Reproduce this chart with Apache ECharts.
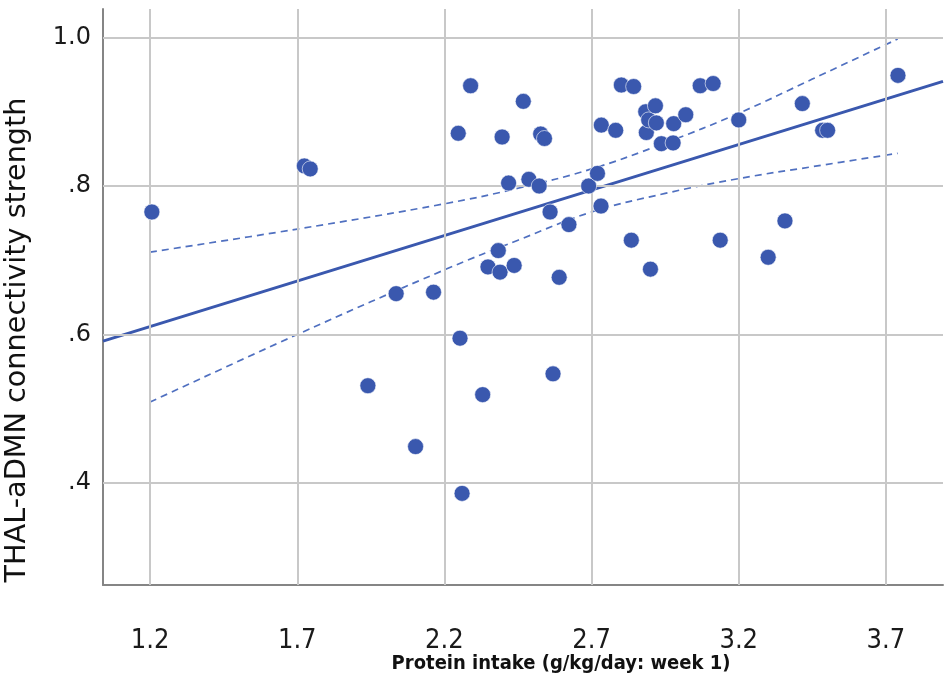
<!DOCTYPE html>
<html>
<head>
<meta charset="utf-8">
<script src="https://cdn.jsdelivr.net/npm/echarts@6/dist/echarts.min.js"></script>
<style>
html,body{margin:0;padding:0;background:#fff;}
#chart{width:945px;height:680px;}
</style>
</head>
<body>
<div id="chart"></div>
<script>
// ---- data ----
const proteinX = [1.206,1.724,1.744,1.940,2.036,2.102,2.163,2.247,2.253,2.260,2.289,2.330,2.348,2.383,2.389,2.396,2.418,2.437,2.468,2.487,2.522,2.527,2.540,2.559,2.569,2.590,2.623,2.690,2.720,2.732,2.733,2.782,2.801,2.835,2.843,2.884,2.886,2.894,2.900,2.917,2.920,2.937,2.977,2.979,3.020,3.069,3.113,3.137,3.200,3.300,3.357,3.416,3.485,3.502,3.741];
const connY   = [0.765,0.827,0.823,0.531,0.655,0.449,0.657,0.871,0.595,0.386,0.935,0.519,0.691,0.713,0.684,0.866,0.804,0.693,0.914,0.809,0.800,0.870,0.864,0.765,0.547,0.677,0.748,0.800,0.817,0.773,0.882,0.875,0.936,0.727,0.934,0.900,0.872,0.889,0.688,0.908,0.885,0.857,0.858,0.884,0.896,0.935,0.938,0.727,0.889,0.704,0.753,0.911,0.875,0.875,0.949];

const fitX = [1.04, 3.894];
const fitY = [0.591, 0.941];

const ciX     = [1.2, 1.7, 2.2, 2.45, 2.7, 2.95, 3.2, 3.45, 3.74];
const ciUpper = [0.711, 0.742, 0.776, 0.797, 0.823, 0.858, 0.898, 0.944, 0.998];
const ciLower = [0.509, 0.600, 0.687, 0.727, 0.765, 0.790, 0.810, 0.826, 0.844];

const xTicks = [1.2, 1.7, 2.2, 2.7, 3.2, 3.7];
const yTicks = [0.4, 0.6, 0.8, 1.0];

const xTitle = 'Protein intake (g/kg/day: week 1)';
const yTitle = 'THAL-aDMN connectivity strength';
// --------------------------------------

const BLUE = '#3A58AE';
const zip = (a, b) => a.map((v, i) => [v, b[i]]);

const chart = echarts.init(document.getElementById('chart'), null, {renderer: 'canvas'});

const gridLines = xTicks.map(v => ({xAxis: v})).concat(yTicks.map(v => ({yAxis: v})));

chart.setOption({
  animation: false,
  backgroundColor: '#fff',
  grid: {left: 103, top: 9, right: 2, bottom: 95, containLabel: false},
  xAxis: {
    type: 'value', min: 1.04, max: 3.894,
    axisLine: {show: true, onZero: false, lineStyle: {color: '#858585', width: 2}},
    axisTick: {show: false},
    splitLine: {show: false},
    axisLabel: {
      customValues: xTicks, margin: 42,
      fontFamily: 'DejaVu Sans Condensed', fontSize: 27, color: '#1a1a1a',
      formatter: v => v.toFixed(1)
    }
  },
  yAxis: {
    type: 'value', min: 0.2626, max: 1.0384,
    axisLine: {show: true, onZero: false, lineStyle: {color: '#858585', width: 2}},
    axisTick: {show: false},
    splitLine: {show: false},
    axisLabel: {
      customValues: yTicks, margin: 12,
      fontFamily: 'DejaVu Sans', fontSize: 24, color: '#1a1a1a',
      formatter: v => v.toFixed(1).replace(/^0/, '')
    }
  },
  graphic: [
    {type: 'text', x: 18, y: 340, rotation: Math.PI / 2,
     style: {text: yTitle, x: 0, y: 0, textAlign: 'center', textVerticalAlign: 'middle',
             font: '28.7px "DejaVu Sans"', fill: '#111'}},
    {type: 'text', x: 561, y: 664,
     style: {text: xTitle, x: 0, y: 0, textAlign: 'center', textVerticalAlign: 'middle',
             font: 'bold 20px "DejaVu Sans Condensed"', fill: '#111'}}
  ],
  series: [
    {
      type: 'line', data: [], z: 1, silent: true,
      markLine: {
        silent: true, symbol: 'none', animation: false,
        label: {show: false},
        lineStyle: {color: '#c8c8c8', width: 2, type: 'solid'},
        data: gridLines
      }
    },
    {
      type: 'line', data: zip(ciX, ciUpper), smooth: 0.4, symbol: 'none', z: 3,
      lineStyle: {color: '#5070C0', width: 1.7, type: [7, 5]}
    },
    {
      type: 'line', data: zip(ciX, ciLower), smooth: 0.4, symbol: 'none', z: 3,
      lineStyle: {color: '#5070C0', width: 1.7, type: [7, 5]}
    },
    {
      type: 'line', data: zip(fitX, fitY), symbol: 'none', z: 4,
      lineStyle: {color: BLUE, width: 3}
    },
    {
      type: 'scatter', data: zip(proteinX, connY), symbolSize: 16, z: 5,
      itemStyle: {color: BLUE, borderColor: '#ffffff', borderWidth: 0.6, opacity: 1}
    }
  ]
});
</script>
</body>
</html>
